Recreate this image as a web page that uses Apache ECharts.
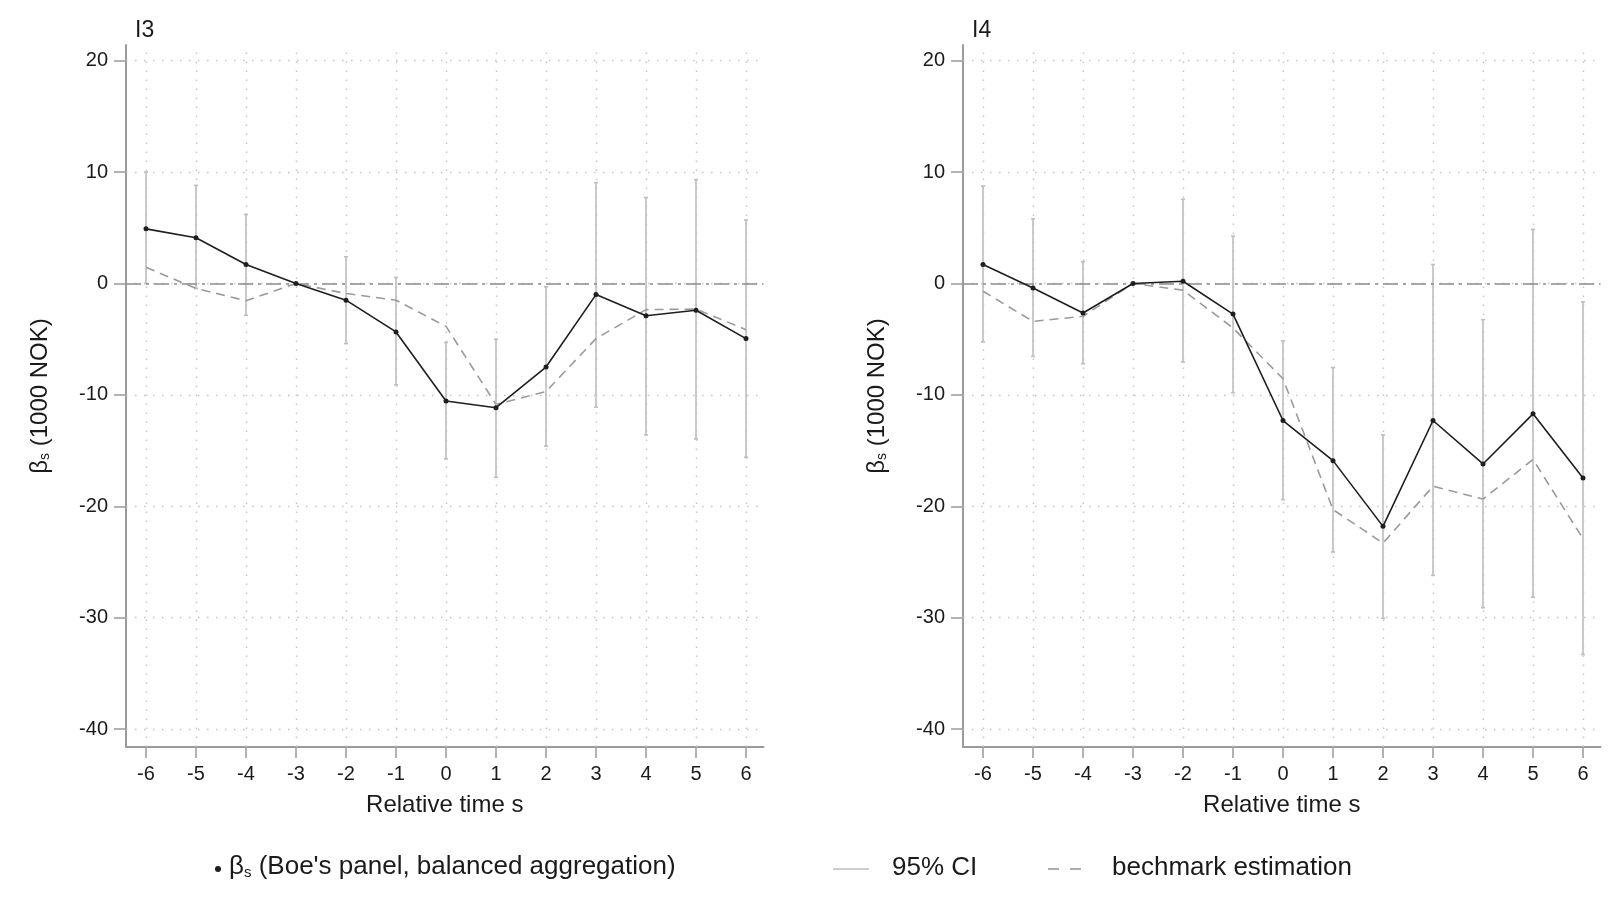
<!DOCTYPE html>
<html>
<head>
<meta charset="utf-8">
<script src="https://cdn.jsdelivr.net/npm/echarts@6/dist/echarts.min.js"></script>
<style>
html,body{margin:0;padding:0;background:#fff;}
#chart{width:1622px;height:897px;}
</style>
</head>
<body>
<div id="chart"></div>
<script>
// ---- data ----
const relTime = [-6, -5, -4, -3, -2, -1, 0, 1, 2, 3, 4, 5, 6];
const xTicks = [-6, -5, -4, -3, -2, -1, 0, 1, 2, 3, 4, 5, 6];
const yTicks = [-40, -30, -20, -10, 0, 10, 20];

// Panel I3
const beta3  = [4.9, 4.1, 1.7, 0, -1.5, -4.35, -10.55, -11.15, -7.5, -1.0, -2.9, -2.4, -4.95];
const ciLo3  = [0.0, -0.45, -2.85, null, -5.4, -9.1, -15.75, -17.4, -14.6, -11.1, -13.6, -13.95, -15.6];
const ciHi3  = [10.0, 8.8, 6.2, null, 2.4, 0.55, -5.3, -5.0, -0.3, 9.05, 7.7, 9.3, 5.7];
const bench3 = [1.45, -0.45, -1.55, 0, -0.9, -1.5, -3.85, -10.85, -9.7, -4.95, -2.35, -2.3, -4.15];

// Panel I4
const beta4  = [1.7, -0.4, -2.65, 0, 0.2, -2.75, -12.3, -15.9, -21.8, -12.3, -16.2, -11.7, -17.45];
const ciLo4  = [-5.25, -6.55, -7.2, null, -7.05, -9.8, -19.4, -24.1, -30.05, -26.2, -29.1, -28.15, -33.3];
const ciHi4  = [8.75, 5.8, 1.95, null, 7.55, 4.25, -5.15, -7.55, -13.6, 1.7, -3.25, 4.85, -1.65];
const bench4 = [-0.7, -3.4, -2.95, 0, -0.6, -4.0, -8.55, -20.3, -23.3, -18.2, -19.35, -15.8, -22.9];

const panelTitles = ['I3', 'I4'];
const xName = 'Relative time s';
const legendMain = "(Boe's panel, balanced aggregation)";
const legendCI = '95% CI';
const legendBench = 'bechmark estimation';

// ---- styles ----
const FONT = '"Liberation Sans", Arial, sans-serif';
const AXIS_COLOR = '#9a9a9a';
const TEXT_COLOR = '#1a1a1a';
const GRID_COLOR = '#c4c4c4';
const CI_COLOR = '#bdbdbd';
const BENCH_COLOR = '#9a9a9a';
const LINE_COLOR = '#1e1e1e';

const chart = echarts.init(document.getElementById('chart'), null, {renderer: 'canvas'});

const gridLefts = [126, 963];
const grids = gridLefts.map(l => ({left: l, top: 45, width: 637.5, height: 702}));

function xAxisFor(i) {
  return {
    type: 'value', gridIndex: i, min: -6.4, max: 6.35,
    name: xName, nameLocation: 'middle', nameGap: 46,
    nameTextStyle: {fontFamily: FONT, fontSize: 24, color: TEXT_COLOR},
    axisLine: {show: true, onZero: false, lineStyle: {color: AXIS_COLOR, width: 2}},
    axisTick: {show: true, length: 11, customValues: xTicks, lineStyle: {color: AXIS_COLOR, width: 1.5}},
    axisLabel: {customValues: xTicks, margin: 17, fontFamily: FONT, fontSize: 20, color: TEXT_COLOR},
    splitLine: {show: false}
  };
}
function yAxisFor(i) {
  return {
    type: 'value', gridIndex: i, min: -41.6, max: 21.4,
    name: '{b|β}{s|s}{b| (1000 NOK)}', nameLocation: 'middle', nameGap: 74, nameRotate: 90,
    nameTextStyle: {
      fontFamily: FONT, fontSize: 24, color: TEXT_COLOR,
      rich: {
        b: {fontFamily: FONT, fontSize: 24, color: TEXT_COLOR},
        s: {fontFamily: FONT, fontSize: 14, color: TEXT_COLOR, verticalAlign: 'bottom', padding: [10, 0, 0, 0]}
      }
    },
    axisLine: {show: true, onZero: false, lineStyle: {color: AXIS_COLOR, width: 2}},
    axisTick: {show: true, length: 12, customValues: yTicks, lineStyle: {color: AXIS_COLOR, width: 1.5}},
    axisLabel: {customValues: yTicks, margin: 18, fontFamily: FONT, fontSize: 20, color: TEXT_COLOR},
    splitLine: {show: false}
  };
}

function ciRender(params, api) {
  const x = api.value(0);
  const p1 = api.coord([x, api.value(1)]);
  const p2 = api.coord([x, api.value(2)]);
  const cap = 2;
  const st = {stroke: CI_COLOR, lineWidth: 1.6};
  return {
    type: 'group',
    children: [
      {type: 'line', shape: {x1: p1[0], y1: p1[1], x2: p2[0], y2: p2[1]}, style: st},
      {type: 'line', shape: {x1: p1[0] - cap, y1: p1[1], x2: p1[0] + cap, y2: p1[1]}, style: st},
      {type: 'line', shape: {x1: p2[0] - cap, y1: p2[1], x2: p2[0] + cap, y2: p2[1]}, style: st}
    ]
  };
}

function panelSeries(i, beta, lo, hi, bench) {
  const ciData = [];
  relTime.forEach((t, k) => { if (lo[k] !== null && hi[k] !== null) ciData.push([t, lo[k], hi[k]]); });
  return [
    {
      type: 'line', xAxisIndex: i, yAxisIndex: i, data: [], z: 1, silent: true,
      markLine: {
        silent: true, symbol: ['none', 'none'], label: {show: false}, animation: false,
        lineStyle: {type: [1.5, 7.5], color: GRID_COLOR, width: 1.4},
        emphasis: {disabled: true},
        data: yTicks.map(v => ({yAxis: v})).concat(xTicks.map(v => ({xAxis: v})))
      }
    },
    {
      type: 'custom', xAxisIndex: i, yAxisIndex: i, z: 2, silent: true,
      renderItem: ciRender, encode: {x: 0, y: [1, 2]}, data: ciData
    },
    {
      type: 'line', xAxisIndex: i, yAxisIndex: i, data: [], z: 3, silent: true,
      markLine: {
        silent: true, symbol: ['none', 'none'], label: {show: false}, animation: false,
        lineStyle: {type: [15, 5, 3, 5], color: '#8a8a8a', width: 1.7},
        emphasis: {disabled: true},
        data: [{yAxis: 0}]
      }
    },
    {
      type: 'line', xAxisIndex: i, yAxisIndex: i, z: 4, silent: true,
      data: relTime.map((t, k) => [t, bench[k]]),
      showSymbol: false, symbol: 'none',
      lineStyle: {color: BENCH_COLOR, width: 1.6, type: [9, 6]}
    },
    {
      type: 'line', xAxisIndex: i, yAxisIndex: i, z: 5, silent: true,
      data: relTime.map((t, k) => [t, beta[k]]),
      symbol: 'circle', symbolSize: 5, showSymbol: true,
      itemStyle: {color: LINE_COLOR},
      lineStyle: {color: LINE_COLOR, width: 1.6}
    }
  ];
}

const titleLefts = [130, 967];

const option = {
  animation: false,
  backgroundColor: '#ffffff',
  textStyle: {fontFamily: FONT},
  title: panelTitles.map((t, i) => ({
    text: t, left: titleLefts[i], top: 14,
    textStyle: {fontFamily: FONT, fontSize: 23, fontWeight: 'normal', color: TEXT_COLOR}
  })),
  grid: grids,
  xAxis: [xAxisFor(0), xAxisFor(1)],
  yAxis: [yAxisFor(0), yAxisFor(1)],
  series: panelSeries(0, beta3, ciLo3, ciHi3, bench3).concat(panelSeries(1, beta4, ciLo4, ciHi4, bench4)),
  graphic: [
    {type: 'circle', shape: {cx: 218, cy: 869, r: 3}, style: {fill: LINE_COLOR}},
    {type: 'text', left: 229, top: 854, style: {
      text: '{b|β}{s|s}{b| ' + legendMain + '}',
      rich: {
        b: {fontFamily: FONT, fontSize: 26, fill: TEXT_COLOR},
        s: {fontFamily: FONT, fontSize: 15, fill: TEXT_COLOR, verticalAlign: 'bottom', padding: [10, 0, 0, 0]}
      }
    }},
    {type: 'line', shape: {x1: 833, y1: 869, x2: 869, y2: 869}, style: {stroke: CI_COLOR, lineWidth: 1.6}},
    {type: 'text', left: 892, top: 855, style: {text: legendCI, fontFamily: FONT, fontSize: 26, fill: TEXT_COLOR}},
    {type: 'line', shape: {x1: 1048, y1: 869, x2: 1082, y2: 869}, style: {stroke: BENCH_COLOR, lineWidth: 1.6, lineDash: [11, 11]}},
    {type: 'text', left: 1112, top: 855, style: {text: legendBench, fontFamily: FONT, fontSize: 26, fill: TEXT_COLOR}}
  ]
};

chart.setOption(option);
</script>
</body>
</html>
